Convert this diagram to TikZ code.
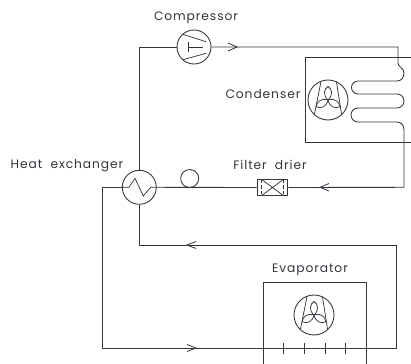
\documentclass[tikz,border=0pt]{standalone}
\usepackage{fontspec}
\setmainfont{Poppins}
\definecolor{ink}{RGB}{50,54,60}
\tikzset{
  x=0.75pt,y=-0.75pt,
  pipe/.style={draw=ink,line width=0.65pt},
  thin part/.style={draw=ink,line width=0.55pt},
  lbl/.style={font=\fontsize{9.2}{11}\selectfont\addfontfeatures{LetterSpace=7.5},text=ink,inner sep=0pt},
  comp/.style={circle,draw=ink,line width=0.65pt,minimum size=25.5pt,inner sep=0pt,fill=white},
  vee/.style={draw=ink,line width=0.6pt},
}
\newcommand{\fanblades}[1]{%
  \begin{scope}[shift={(#1)}]
    \draw[thin part] (-7,-18.5) -- (-13.5,14) (8.5,-18) -- (13.5,14);
    \foreach \a in {0,120,240}{
      \draw[thin part,rotate=\a] (0,0) .. controls (-5.5,-5) and (-4,-11) .. (0,-13.5) .. controls (4,-11) and (5.5,-5) .. (0,0);
    }
  \end{scope}}
\begin{document}
\begin{tikzpicture}
\useasboundingbox (0,0) rectangle (411,364);
\fill[white] (0,0) rectangle (411,364);
\node[comp] (cp) at (194,47) {};
\node[comp] (hx) at (139.3,187.3) {};
\node[circle,draw=ink,line width=0.65pt,minimum size=13.5pt,inner sep=0pt] (rc) at (189.7,178.5) {};
\node[draw=ink,line width=0.65pt,minimum width=23pt,minimum height=12.5pt,inner sep=0pt] (fd) at (272.5,187.5) {};
\coordinate (c1) at (139.3,47);
\coordinate (c2) at (398,47);
\coordinate (c3) at (404,187.3);
\coordinate (e1) at (139.3,245);
\coordinate (e2) at (396,245);
\coordinate (e3) at (396,348);
\coordinate (e4) at (102,348);
\coordinate (e5) at (102,187.3);
% suction
\draw[pipe] (hx.north) -- (c1) -- (cp.west);
\draw[pipe] (cp.east) -- (c2) -- (398,63) .. controls (398,67) and (404,68) .. (404,73)
  .. controls (404,78) and (401,81) .. (397,81) -- (358,81)
  .. controls (354.3,81) and (351.5,84) .. (351.5,87.5) .. controls (351.5,91) and (354.3,94) .. (358,94)
  -- (397,94) .. controls (400.9,94) and (404,97.1) .. (404,101) .. controls (404,104.9) and (400.9,108) .. (397,108)
  -- (358,108) .. controls (354.1,108) and (351,111.1) .. (351,115) .. controls (351,118.9) and (354.1,122) .. (358,122)
  -- (397,122) .. controls (401,122) and (404,125) .. (404,130) -- (c3) -- (fd.east);
\draw[pipe] (fd.west) -- (hx.east);
\draw[pipe] (hx.south) -- (e1) -- (e2) -- (e3) -- (e4) -- (e5) -- (hx.west);
% arrows
\draw[vee] (228,43) -- (237,47) -- (228,51);
\draw[vee] (329,183.5) -- (320,187.3) -- (329,191);
\draw[vee] (196,241.5) -- (187,245) -- (196,248.5);
\draw[vee] (187,344.5) -- (196,348) -- (187,351.5);
% compressor inner
\draw[thin part] (182.7,34.3) -- (206,41.7) (183,59.7) -- (206,53.3);
\draw[thin part] (188.3,41.7) -- (188.3,51.7) (188.3,47) -- (203,47);
% HX coil
\draw[thin part] (hx.west) -- (129,187.3) -- (135,178.3) -- (143.3,196) -- (150.7,187.3) -- (hx.east);
% drier
\draw[thin part] (261.7,179.5) -- (283.3,195.5) (261.7,195.5) -- (283.3,179.5);
\draw[thin part,dash pattern=on 2.5pt off 1.5pt] (261.7,180) -- (261.7,195) (283.3,180) -- (283.3,195);
% condenser
\draw[pipe] (411,57) -- (305,57) -- (305,142) -- (411,142);
\node[comp,minimum size=30pt] (f1) at (328,100) {};
\fanblades{328,100}
% evaporator
\draw[pipe] (263,364) -- (263,282) -- (366,282) -- (366,364);
\node[comp,minimum size=30pt] (f2) at (314,315) {};
\fanblades{314,315}
\foreach \x in {283,304,325,345}{\draw[thin part] (\x,343) -- (\x,354);}
% labels
\node[lbl] (t1) at (196,18) {Compressor};
\node[lbl] (t2) at (263,94) {Condenser};
\node[lbl] (t3) at (67,166) {Heat\hspace{3pt} exchanger};
\node[lbl] (t4) at (270,165) {Filter\hspace{3pt} drier};
\node[lbl] (t5) at (310,270) {Evaporator};
\end{tikzpicture}
\end{document}
